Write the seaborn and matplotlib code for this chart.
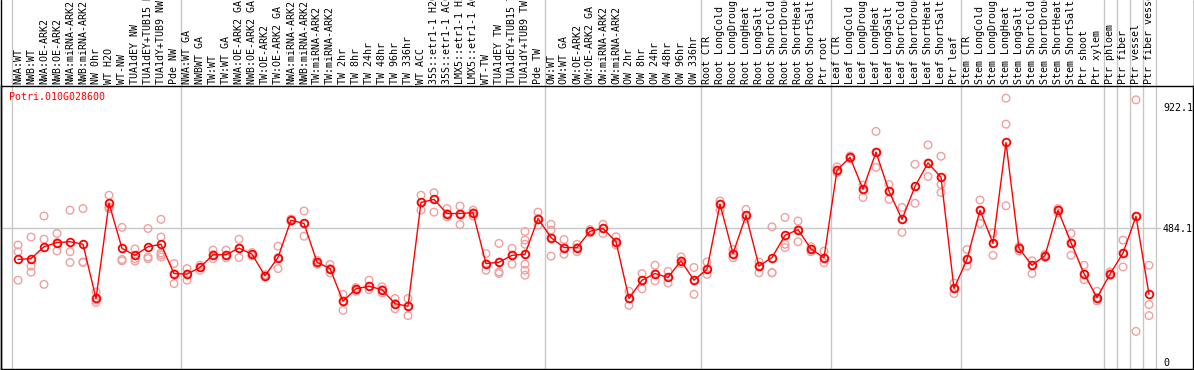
import numpy as np
import pandas as pd
import matplotlib
matplotlib.use("Agg")
import matplotlib.pyplot as plt
import seaborn as sns
from matplotlib.transforms import blended_transform_factory
from matplotlib.lines import Line2D

title = "Potri.010G028600"

categories = [
    "NWA:WT", "NWB:WT", "NWA:OE-ARK2", "NWB:OE-ARK2", "NWA:miRNA-ARK2", "NWB:miRNA-ARK2",
    "NW 0hr", "WT H2O", "WT-NW", "TUA1dEY NW", "TUA1dEY+TUB15 NW", "TUA1dY+TUB9 NW", "Pde NW",
    "NWA:WT GA", "NWBWT GA", "TW:WT", "TW:WT GA", "NWA:OE-ARK2 GA", "NWB:OE-ARK2 GA",
    "TW:OE-ARK2", "TW:OE-ARK2 GA", "NWA:miRNA-ARK2", "NWB:miRNA-ARK2", "TW:miRNA-ARK2",
    "TW:miRNA-ARK2", "TW 2hr", "TW 8hr", "TW 24hr", "TW 48hr", "TW 96hr", "TW 336hr", "WT ACC",
    "35S::etr1-1 H2O", "35S::etr1-1 ACC", "LMX5::etr1-1 H2O", "LMX5::etr1-1 ACC", "WT-TW",
    "TUA1dEY TW", "TUA1dEY+TUB15 TW", "TUA1dY+TUB9 TW", "Pde TW",
    "OW:WT", "OW:WT GA", "OW:OE-ARK2", "OW:OE-ARK2 GA", "OW:miRNA-ARK2", "OW:miRNA-ARK2",
    "OW 2hr", "OW 8hr", "OW 24hr", "OW 48hr", "OW 96hr", "OW 336hr",
    "Root CTR", "Root LongCold", "Root LongDrought", "Root LongHeat", "Root LongSalt",
    "Root ShortCold", "Root ShortDrought", "Root ShortHeat", "Root ShortSalt", "Ptr root",
    "Leaf CTR", "Leaf LongCold", "Leaf LongDrought", "Leaf LongHeat", "Leaf LongSalt",
    "Leaf ShortCold", "Leaf ShortDrought", "Leaf ShortHeat", "Leaf ShortSalt", "Ptr leaf",
    "Stem CTR", "Stem LongCold", "Stem LongDrought", "Stem LongHeat", "Stem LongSalt",
    "Stem ShortCold", "Stem ShortDrought", "Stem ShortHeat", "Stem ShortSalt", "Ptr shoot",
    "Ptr xylem", "Ptr phloem", "Ptr fiber", "Ptr vessel", "Ptr fiber vessel",
]

means = [
    372, 375, 418, 433, 436, 427, 231, 575, 412, 387, 418, 427, 321,
    319, 343, 389, 389, 413, 391, 313, 379, 514, 502, 362, 339, 221, 266, 275, 263, 212, 203,
    578, 589, 538, 538, 541, 357, 362, 387, 391, 520,
    451, 415, 415, 474, 484, 436, 231, 297, 321, 307, 367, 297,
    337, 572, 393, 531, 348, 379, 459, 480, 410, 378,
    695, 741, 626, 760, 619, 517, 636, 721, 669, 267,
    372, 550, 430, 795, 412, 351, 386, 550, 433, 321, 234,
    319, 395, 528, 246,
]

replicates = [
    [424, 400, 297], [453, 348, 326], [529, 445, 282], [466, 433, 403], [550, 400, 361],
    [556, 363, 361], [255, 225, 216], [604, 562, 556], [488, 372, 367], [410, 375, 366],
    [484, 381, 375], [517, 453, 396, 389, 381], [357, 321, 285],
    [339, 319, 297], [351, 343, 333], [406, 389, 375], [406, 388, 378], [445, 413, 379],
    [385, 391, 397], [317, 313, 309], [420, 379, 339], [510, 514, 518], [547, 502, 456],
    [355, 362, 369], [354, 339, 324], [246, 221, 188], [270, 266, 257], [297, 275, 263],
    [273, 263, 251], [231, 213, 194], [231, 203, 169], [604, 578, 550], [613, 589, 543],
    [556, 538, 526], [565, 538, 498], [550, 541, 529], [393, 357, 333], [430, 362, 327, 321],
    [412, 387, 355], [473, 442, 427, 391, 355, 333, 315], [543, 520, 496],
    [499, 478, 451, 384], [444, 415, 391], [427, 415, 400], [468, 474, 480], [499, 484, 466],
    [454, 436, 424], [257, 231, 206], [321, 297, 266], [351, 321, 295], [329, 307, 287],
    [381, 367, 357], [343, 297, 246],
    [363, 337, 318], [583, 572, 550], [408, 393, 378], [553, 531, 520], [363, 348, 324],
    [490, 324, 324], [524, 427, 415], [511, 480, 436], [418, 410, 400], [402, 378, 360],
    [707, 695, 686], [746, 741, 736], [641, 626, 596], [835, 760, 705], [643, 619, 589],
    [560, 517, 470], [716, 636, 575], [786, 721, 672], [745, 669, 643, 614], [287, 267, 249],
    [408, 372, 348], [587, 550, 502], [468, 430, 387], [955, 861, 566], [418, 412, 403],
    [367, 351, 321], [390, 386, 379], [556, 550, 541], [466, 433, 387], [351, 321, 299],
    [257, 234, 222],
    [327, 319, 315], [442, 395, 345], [949, 528, 112], [351, 209, 169],
]

group_edges = [0, 13, 41, 53, 63, 73, 84, 85, 86, 87, 88]
tick_values = [0, 484.1, 922.1]
tick_labels = ["0", "484.1", "922.1"]

sns.set_style("white")
plt.rcParams["font.family"] = ["DejaVu Sans Mono"]
FS = 7.2

W, H = 1194, 370
fig = plt.figure(figsize=(W / 100, H / 100), dpi=100)
ax_h = 283
ax = fig.add_axes([1 / W, 1 / H, 1192 / W, ax_h / H])

rep_df = pd.DataFrame(
    [(i, v) for i, vals in enumerate(replicates) for v in vals], columns=["pos", "value"]
)
mean_df = pd.DataFrame({"pos": np.arange(len(categories)), "value": means})

grid_c = "#c8c8c8"
for k in group_edges:
    ax.axvline(k - 0.5, ymin=0, ymax=369 / ax_h, color=grid_c, lw=1, clip_on=False, zorder=0)
ax.axhline(484.1, xmin=0, xmax=(1160 - 1) / 1192, color=grid_c, lw=1, zorder=0)

sns.scatterplot(data=rep_df, x="pos", y="value", ax=ax, marker="o", s=30,
                color="#f0a0a0", facecolors="none", edgecolor="#f0a0a0",
                linewidth=1.0, zorder=2, legend=False)
sns.lineplot(data=mean_df, x="pos", y="value", ax=ax, color="red", lw=1,
             marker="o", markersize=5.5, markerfacecolor="none",
             markeredgecolor="red", markeredgewidth=1.3, zorder=3)

ax.set_xlim(-17 / 13, 1175 / 13)
ax.set_ylim(-24, 999)
ax.set_xlabel("")
ax.set_ylabel("")
ax.set_xticks([])
ax.yaxis.tick_right()
ax.set_yticks(tick_values, tick_labels)
ax.tick_params(axis="y", length=0, pad=-21.6, labelsize=FS, colors="black")
for s in ax.spines.values():
    s.set_color("black")
    s.set_linewidth(1)
    s.set_visible(True)

trans = blended_transform_factory(ax.transData, ax.transAxes)
for i, cat in enumerate(categories):
    ax.text(i, 1 + 2 / ax_h, cat, rotation=90, ha="center", va="bottom",
            transform=trans, fontsize=FS, clip_on=False, color="black")

ax.text(8 / 1192, 1 - 6 / ax_h, title, transform=ax.transAxes, ha="left", va="top",
        color="red", fontsize=FS)

fig.add_artist(Line2D([0.5 / W, 0.5 / W], [0, 1], color="black", lw=1))
fig.add_artist(Line2D([1 - 0.5 / W, 1 - 0.5 / W], [0, 1], color="black", lw=1))

fig.savefig("out.png", dpi=100)
